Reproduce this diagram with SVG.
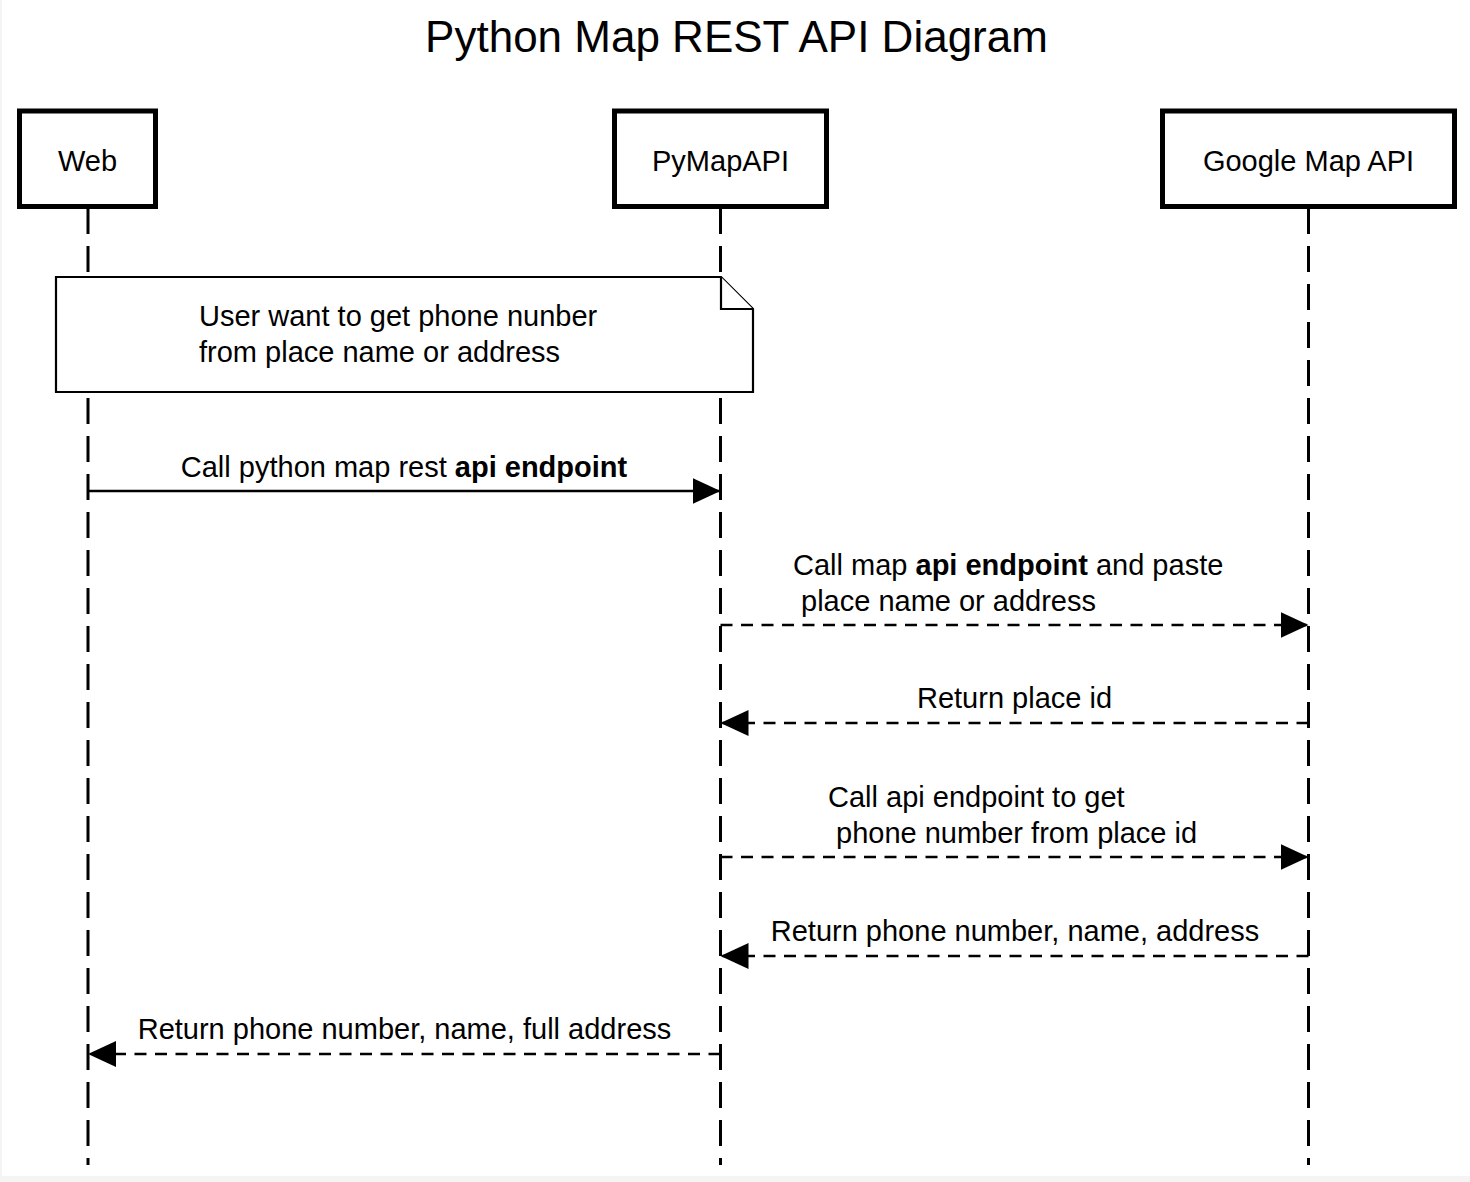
<svg xmlns="http://www.w3.org/2000/svg" width="1470" height="1182" viewBox="0 0 1470 1182">
<style>
text{font-family:"Liberation Sans",Arial,Helvetica,sans-serif;fill:#000}
.lbl{font-size:29px}
.title{font-size:44px}
.box{fill:#fff;stroke:#000;stroke-width:5}
.life{fill:none;stroke:#000;stroke-width:3;stroke-dasharray:26 12}
.note{fill:#fff;stroke:#000;stroke-width:2.2}
.msg{fill:none;stroke:#000;stroke-width:2.5}
.dash{stroke-dasharray:12 8.5}
</style>
<defs>
<marker id="ah" markerUnits="userSpaceOnUse" markerWidth="30" markerHeight="28" refX="28" refY="13" orient="auto">
<path d="M0,0 L28,13 L0,26 Z" fill="#000"/>
</marker>
</defs>
<rect x="0" y="0" width="1470" height="1182" fill="#f4f4f4"/>
<rect x="2" y="0" width="1468" height="1176" fill="#fff"/>
<text class="title" x="736.5" y="52" text-anchor="middle">Python Map REST API Diagram</text>
<g id="lifelines">
<line class="life" x1="88" y1="208" x2="88" y2="1165"/>
<line class="life" x1="720.5" y1="208" x2="720.5" y2="1165"/>
<line class="life" x1="1308.5" y1="208" x2="1308.5" y2="1165"/>
</g>
<g id="web">
<rect class="box" x="19.5" y="111" width="136" height="95.5"/>
<text class="lbl" x="87.5" y="171" text-anchor="middle">Web</text>
</g>
<g id="pymapapi">
<rect class="box" x="614.5" y="111" width="212" height="95.5"/>
<text class="lbl" x="720.5" y="171" text-anchor="middle">PyMapAPI</text>
</g>
<g id="googlemapapi">
<rect class="box" x="1162.5" y="111" width="292" height="95.5"/>
<text class="lbl" x="1308.5" y="171" text-anchor="middle">Google Map API</text>
</g>
<g id="note">
<path class="note" d="M56,277 L721,277 L753,309 L753,392 L56,392 Z"/>
<path class="note" d="M721,277 L721,309 L753,309" fill="none"/>
<text class="lbl" x="199" y="326">User want to get phone nunber</text>
<text class="lbl" x="199" y="362">from place name or address</text>
</g>
<g id="connectors">
<line class="msg" x1="88" y1="491" x2="720.5" y2="491" marker-end="url(#ah)"/>
<line class="msg dash" x1="720.5" y1="625" x2="1308.5" y2="625" marker-end="url(#ah)"/>
<line class="msg dash" x1="1308.5" y1="723" x2="720.5" y2="723" marker-end="url(#ah)"/>
<line class="msg dash" x1="720.5" y1="857" x2="1308.5" y2="857" marker-end="url(#ah)"/>
<line class="msg dash" x1="1308.5" y1="956" x2="720.5" y2="956" marker-end="url(#ah)"/>
<line class="msg dash" x1="720.5" y1="1054" x2="88" y2="1054" marker-end="url(#ah)"/>
</g>
<g id="labels">
<text class="lbl" x="404" y="477" text-anchor="middle">Call python map rest <tspan font-weight="bold">api endpoint</tspan></text>
<text class="lbl" x="793" y="575">Call map <tspan font-weight="bold">api endpoint</tspan> and paste</text>
<text class="lbl" x="801" y="611">place name or address</text>
<text class="lbl" x="1014.5" y="708" text-anchor="middle">Return place id</text>
<text class="lbl" x="828" y="807">Call api endpoint to get</text>
<text class="lbl" x="836" y="843">phone number from place id</text>
<text class="lbl" x="1015" y="941" text-anchor="middle">Return phone number, name, address</text>
<text class="lbl" x="404.5" y="1039" text-anchor="middle">Return phone number, name, full address</text>
</g>
</svg>
